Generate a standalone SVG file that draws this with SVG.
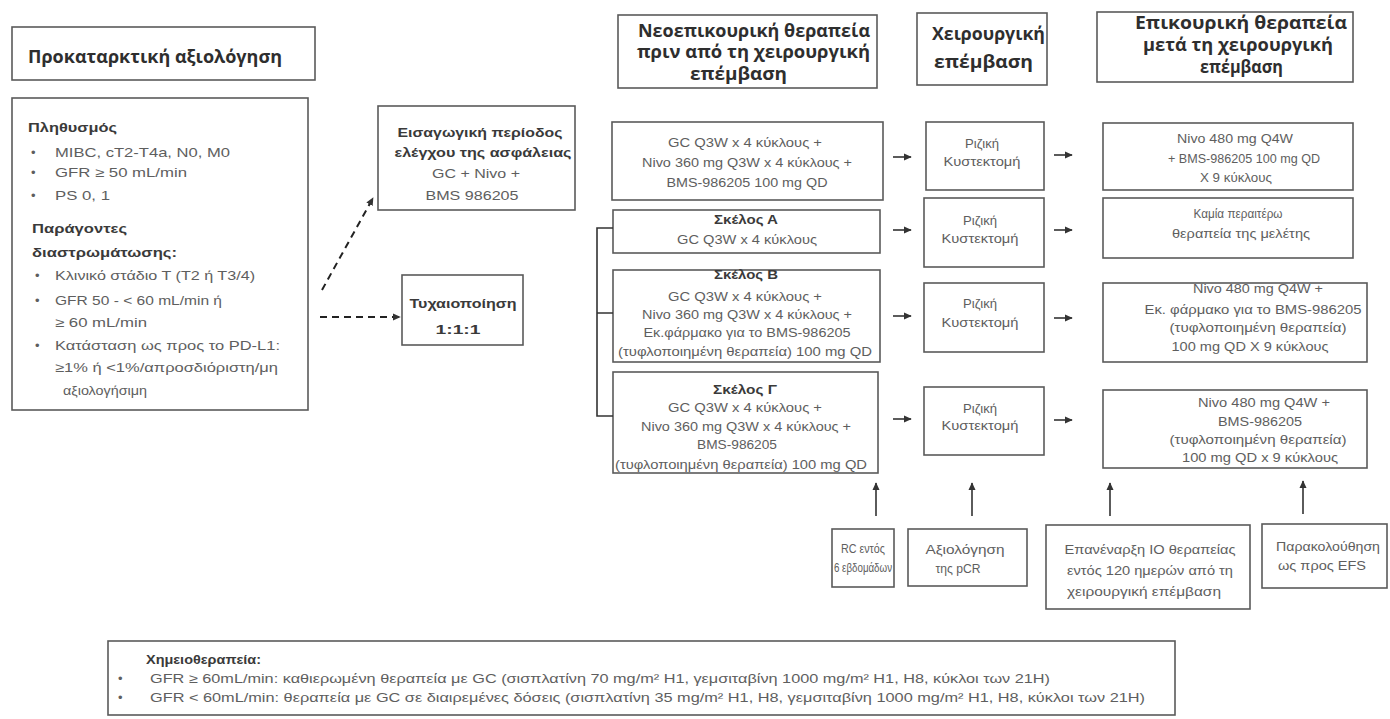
<svg xmlns="http://www.w3.org/2000/svg" width="1390" height="719" viewBox="0 0 1390 719">
<defs>
<marker id="ah" viewBox="0 0 10 10" refX="9" refY="5" markerWidth="8" markerHeight="8" markerUnits="userSpaceOnUse" orient="auto"><path d="M0,0.5 L10,5 L0,9.5 z" fill="#333"/></marker>
</defs>
<style>
.bx{fill:#fff;stroke:#5a5a5a;stroke-width:1.6}
.hd{font-family:"Open Sans","DejaVu Sans",sans-serif;font-weight:700;font-size:17px;fill:#2e2e2e}
.t{font-family:"Liberation Sans",Arial,sans-serif;font-size:13px;fill:#5e5e5e}
.tb{font-family:"Liberation Sans",Arial,sans-serif;font-size:13px;font-weight:700;fill:#3a3a3a}
.c{text-anchor:middle}
.ln{stroke:#333;stroke-width:1.6;fill:none}
.dl{stroke:#222;stroke-width:2;stroke-dasharray:7 5;fill:none}
</style>
<rect width="1390" height="719" fill="#fff"/>

<g id="hdr-baseline">
<rect class="bx" x="12" y="27" width="303" height="53"/>
<text class="hd" x="28" y="63" textLength="254" lengthAdjust="spacingAndGlyphs">Προκαταρκτική αξιολόγηση</text>
</g>

<g id="baseline-box">
<rect class="bx" x="12" y="98" width="296" height="312"/>
<text class="tb" x="28" y="132" textLength="89" lengthAdjust="spacingAndGlyphs">Πληθυσμός</text>
<text class="t" x="31" y="157">•</text>
<text class="t" x="55" y="157" textLength="175" lengthAdjust="spacingAndGlyphs">MIBC, cT2-T4a, N0, M0</text>
<text class="t" x="31" y="177">•</text>
<text class="t" x="55" y="177" textLength="132" lengthAdjust="spacingAndGlyphs">GFR ≥ 50 mL/min</text>
<text class="t" x="31" y="200">•</text>
<text class="t" x="55" y="200" textLength="55" lengthAdjust="spacingAndGlyphs">PS 0, 1</text>
<text class="tb" x="32" y="233" textLength="95" lengthAdjust="spacingAndGlyphs">Παράγοντες</text>
<text class="tb" x="32" y="257" textLength="145" lengthAdjust="spacingAndGlyphs">διαστρωμάτωσης:</text>
<text class="t" x="35" y="280">•</text>
<text class="t" x="55" y="280" textLength="200" lengthAdjust="spacingAndGlyphs">Κλινικό στάδιο Τ (Τ2 ή Τ3/4)</text>
<text class="t" x="35" y="305">•</text>
<text class="t" x="55" y="305" textLength="167" lengthAdjust="spacingAndGlyphs">GFR 50 - &lt; 60 mL/min ή</text>
<text class="t" x="55" y="327" textLength="92" lengthAdjust="spacingAndGlyphs">≥ 60 mL/min</text>
<text class="t" x="35" y="350">•</text>
<text class="t" x="55" y="350" textLength="225" lengthAdjust="spacingAndGlyphs">Κατάσταση ως προς το PD-L1:</text>
<text class="t" x="55" y="372" textLength="223" lengthAdjust="spacingAndGlyphs">≥1% ή &lt;1%/απροσδιόριστη/μη</text>
<text class="t" x="63" y="395" textLength="84" lengthAdjust="spacingAndGlyphs">αξιολογήσιμη</text>
</g>

<g id="safety-leadin">
<rect class="bx" x="378" y="106" width="197" height="104"/>
<text class="tb c" x="480" y="137" textLength="165" lengthAdjust="spacingAndGlyphs">Εισαγωγική περίοδος</text>
<text class="tb c" x="483" y="157" textLength="177" lengthAdjust="spacingAndGlyphs">ελέγχου της ασφάλειας</text>
<text class="t c" x="476" y="178" textLength="88" lengthAdjust="spacingAndGlyphs">GC + Nivo +</text>
<text class="t c" x="472" y="200" textLength="93" lengthAdjust="spacingAndGlyphs">BMS 986205</text>
</g>

<g id="randomization">
<rect class="bx" x="402" y="275" width="121" height="70"/>
<text class="tb c" x="463" y="308" textLength="107" lengthAdjust="spacingAndGlyphs">Τυχαιοποίηση</text>
<text class="tb c" x="458" y="334" textLength="45" lengthAdjust="spacingAndGlyphs">1:1:1</text>
</g>

<g id="hdr-neoadjuvant">
<rect class="bx" x="618" y="15" width="259" height="73"/>
<text class="hd" x="638" y="37" textLength="232" lengthAdjust="spacingAndGlyphs">Νεοεπικουρική θεραπεία</text>
<text class="hd" x="637" y="58" textLength="233" lengthAdjust="spacingAndGlyphs">πριν από τη χειρουργική</text>
<text class="hd" x="690" y="80" textLength="97" lengthAdjust="spacingAndGlyphs">επέμβαση</text>
</g>

<g id="neo-leadin">
<rect class="bx" x="612" y="122" width="271" height="78"/>
<text class="t c" x="745" y="147" textLength="154" lengthAdjust="spacingAndGlyphs">GC Q3W x 4 κύκλους +</text>
<text class="t c" x="747" y="167" textLength="210" lengthAdjust="spacingAndGlyphs">Nivo 360 mg Q3W x 4 κύκλους +</text>
<text class="t c" x="747" y="187" textLength="161" lengthAdjust="spacingAndGlyphs">BMS-986205 100 mg QD</text>
</g>

<g id="neo-arm-a">
<rect class="bx" x="613" y="210" width="267" height="43"/>
<text class="tb c" x="746" y="224" textLength="64" lengthAdjust="spacingAndGlyphs">Σκέλος Α</text>
<text class="t c" x="747" y="244" textLength="140" lengthAdjust="spacingAndGlyphs">GC Q3W x 4 κύκλους</text>
</g>

<g id="neo-arm-b">
<rect class="bx" x="613" y="270" width="267" height="92"/>
<text class="tb c" x="746" y="279" textLength="64" lengthAdjust="spacingAndGlyphs">Σκέλος Β</text>
<text class="t c" x="745" y="301" textLength="154" lengthAdjust="spacingAndGlyphs">GC Q3W x 4 κύκλους +</text>
<text class="t c" x="747" y="319" textLength="210" lengthAdjust="spacingAndGlyphs">Nivo 360 mg Q3W x 4 κύκλους +</text>
<text class="t c" x="747" y="337" textLength="207" lengthAdjust="spacingAndGlyphs">Εκ.φάρμακο για το BMS-986205</text>
<text class="t c" x="745" y="356" textLength="254" lengthAdjust="spacingAndGlyphs">(τυφλοποιημένη θεραπεία) 100 mg QD</text>
</g>

<g id="neo-arm-c">
<rect class="bx" x="613" y="372" width="265" height="101"/>
<text class="tb c" x="745" y="394" textLength="64" lengthAdjust="spacingAndGlyphs">Σκέλος Γ</text>
<text class="t c" x="745" y="412" textLength="154" lengthAdjust="spacingAndGlyphs">GC Q3W x 4 κύκλους +</text>
<text class="t c" x="746" y="431" textLength="210" lengthAdjust="spacingAndGlyphs">Nivo 360 mg Q3W x 4 κύκλους +</text>
<text class="t c" x="737" y="449" textLength="80" lengthAdjust="spacingAndGlyphs">BMS-986205</text>
<text class="t c" x="741" y="469" textLength="252" lengthAdjust="spacingAndGlyphs">(τυφλοποιημένη θεραπεία) 100 mg QD</text>
</g>

<g id="hdr-surgery">
<rect class="bx" x="917" y="13" width="130" height="72"/>
<text class="hd" x="932" y="40" textLength="113" lengthAdjust="spacingAndGlyphs">Χειρουργική</text>
<text class="hd" x="934" y="68" textLength="99" lengthAdjust="spacingAndGlyphs">επέμβαση</text>
</g>

<g id="surgery-1">
<rect class="bx" x="926" y="122" width="118" height="68"/>
<text class="t c" x="982" y="148" textLength="34" lengthAdjust="spacingAndGlyphs">Ριζική</text>
<text class="t c" x="982" y="166" textLength="77" lengthAdjust="spacingAndGlyphs">Κυστεκτομή</text>
</g>
<g id="surgery-2">
<rect class="bx" x="924" y="198" width="120" height="69"/>
<text class="t c" x="980" y="225" textLength="34" lengthAdjust="spacingAndGlyphs">Ριζική</text>
<text class="t c" x="980" y="243" textLength="77" lengthAdjust="spacingAndGlyphs">Κυστεκτομή</text>
</g>
<g id="surgery-3">
<rect class="bx" x="924" y="283" width="120" height="69"/>
<text class="t c" x="980" y="308" textLength="34" lengthAdjust="spacingAndGlyphs">Ριζική</text>
<text class="t c" x="980" y="327" textLength="77" lengthAdjust="spacingAndGlyphs">Κυστεκτομή</text>
</g>
<g id="surgery-4">
<rect class="bx" x="924" y="387" width="120" height="68"/>
<text class="t c" x="980" y="413" textLength="34" lengthAdjust="spacingAndGlyphs">Ριζική</text>
<text class="t c" x="980" y="430" textLength="77" lengthAdjust="spacingAndGlyphs">Κυστεκτομή</text>
</g>

<g id="hdr-adjuvant">
<rect class="bx" x="1097" y="12" width="256" height="70"/>
<text class="hd" x="1135" y="29" textLength="212" lengthAdjust="spacingAndGlyphs">Επικουρική θεραπεία</text>
<text class="hd" x="1143" y="51" textLength="190" lengthAdjust="spacingAndGlyphs">μετά τη χειρουργική</text>
<text class="hd" x="1200" y="73" textLength="83" lengthAdjust="spacingAndGlyphs">επέμβαση</text>
</g>

<g id="adj-1">
<rect class="bx" x="1103" y="123" width="250" height="67"/>
<text class="t c" x="1235" y="143" textLength="116" lengthAdjust="spacingAndGlyphs">Nivo 480 mg Q4W</text>
<text class="t c" x="1244" y="163" textLength="152" lengthAdjust="spacingAndGlyphs">+ BMS-986205 100 mg QD</text>
<text class="t c" x="1236" y="182" textLength="72" lengthAdjust="spacingAndGlyphs">X 9 κύκλους</text>
</g>
<g id="adj-2">
<rect class="bx" x="1103" y="198" width="250" height="60"/>
<text class="t c" x="1238" y="218" textLength="89" lengthAdjust="spacingAndGlyphs">Καμία περαιτέρω</text>
<text class="t c" x="1241" y="238" textLength="138" lengthAdjust="spacingAndGlyphs">θεραπεία της μελέτης</text>
</g>
<g id="adj-3">
<rect class="bx" x="1103" y="283" width="264" height="79"/>
<text class="t c" x="1258" y="293" textLength="130" lengthAdjust="spacingAndGlyphs">Nivo 480 mg Q4W +</text>
<text class="t c" x="1253" y="314" textLength="217" lengthAdjust="spacingAndGlyphs">Εκ. φάρμακο για το BMS-986205</text>
<text class="t c" x="1258" y="332" textLength="177" lengthAdjust="spacingAndGlyphs">(τυφλοποιημένη θεραπεία)</text>
<text class="t c" x="1250" y="351" textLength="157" lengthAdjust="spacingAndGlyphs">100 mg QD X 9 κύκλους</text>
</g>
<g id="adj-4">
<rect class="bx" x="1103" y="390" width="264" height="78"/>
<text class="t c" x="1264" y="407" textLength="132" lengthAdjust="spacingAndGlyphs">Nivo 480 mg Q4W +</text>
<text class="t c" x="1260" y="426" textLength="84" lengthAdjust="spacingAndGlyphs">BMS-986205</text>
<text class="t c" x="1258" y="444" textLength="177" lengthAdjust="spacingAndGlyphs">(τυφλοποιημένη θεραπεία)</text>
<text class="t c" x="1260" y="462" textLength="156" lengthAdjust="spacingAndGlyphs">100 mg QD x 9 κύκλους</text>
</g>

<g id="note-rc">
<rect class="bx" x="832" y="529" width="62" height="58"/>
<text class="t c" x="863" y="553" textLength="44" lengthAdjust="spacingAndGlyphs">RC εντός</text>
<text class="t c" x="863" y="572" textLength="58" lengthAdjust="spacingAndGlyphs">6 εβδομάδων</text>
</g>
<g id="note-pcr">
<rect class="bx" x="908" y="529" width="119" height="57"/>
<text class="t c" x="965" y="554" textLength="79" lengthAdjust="spacingAndGlyphs">Αξιολόγηση</text>
<text class="t c" x="958" y="573" textLength="45" lengthAdjust="spacingAndGlyphs">της pCR</text>
</g>
<g id="note-io">
<rect class="bx" x="1046" y="525" width="204" height="84"/>
<text class="t c" x="1150" y="554" textLength="171" lengthAdjust="spacingAndGlyphs">Επανέναρξη IO θεραπείας</text>
<text class="t c" x="1150" y="575" textLength="166" lengthAdjust="spacingAndGlyphs">εντός 120 ημερών από τη</text>
<text class="t c" x="1144" y="596" textLength="154" lengthAdjust="spacingAndGlyphs">χειρουργική επέμβαση</text>
</g>
<g id="note-efs">
<rect class="bx" x="1262" y="524" width="125" height="64"/>
<text class="t c" x="1328" y="551" textLength="104" lengthAdjust="spacingAndGlyphs">Παρακολούθηση</text>
<text class="t c" x="1322" y="570" textLength="88" lengthAdjust="spacingAndGlyphs">ως προς EFS</text>
</g>

<g id="footer">
<rect class="bx" x="108" y="641" width="1067" height="74"/>
<text class="tb" x="146" y="664" textLength="115" lengthAdjust="spacingAndGlyphs">Χημειοθεραπεία:</text>
<text class="t" x="118" y="683">•</text>
<text class="t" x="150" y="683" textLength="900" lengthAdjust="spacingAndGlyphs">GFR ≥ 60mL/min: καθιερωμένη θεραπεία με GC (σισπλατίνη 70 mg/m² Η1, γεμσιταβίνη 1000 mg/m² Η1, Η8, κύκλοι των 21Η)</text>
<text class="t" x="118" y="702">•</text>
<text class="t" x="150" y="702" textLength="995" lengthAdjust="spacingAndGlyphs">GFR &lt; 60mL/min: θεραπεία με GC σε διαιρεμένες δόσεις (σισπλατίνη 35 mg/m² Η1, Η8, γεμσιταβίνη 1000 mg/m² Η1, Η8, κύκλοι των 21Η)</text>
</g>

<g id="connectors">
<path class="dl" d="M322,290 L373,198" marker-end="url(#ah)"/>
<path class="dl" d="M320,317 L400,317" marker-end="url(#ah)"/>
<path class="ln" d="M613,228 H597 V416 H613 M597,313 H613"/>
<path class="ln" d="M893,157 H911" marker-end="url(#ah)"/>
<path class="ln" d="M893,230 H911" marker-end="url(#ah)"/>
<path class="ln" d="M893,316 H911" marker-end="url(#ah)"/>
<path class="ln" d="M893,419 H911" marker-end="url(#ah)"/>
<path class="ln" d="M1054,155 H1072" marker-end="url(#ah)"/>
<path class="ln" d="M1054,230 H1072" marker-end="url(#ah)"/>
<path class="ln" d="M1054,318 H1072" marker-end="url(#ah)"/>
<path class="ln" d="M1054,420 H1072" marker-end="url(#ah)"/>
<path class="ln" d="M876,516 V483" marker-end="url(#ah)"/>
<path class="ln" d="M972,516 V483" marker-end="url(#ah)"/>
<path class="ln" d="M1110,516 V483" marker-end="url(#ah)"/>
<path class="ln" d="M1303,514 V481" marker-end="url(#ah)"/>
</g>
</svg>
